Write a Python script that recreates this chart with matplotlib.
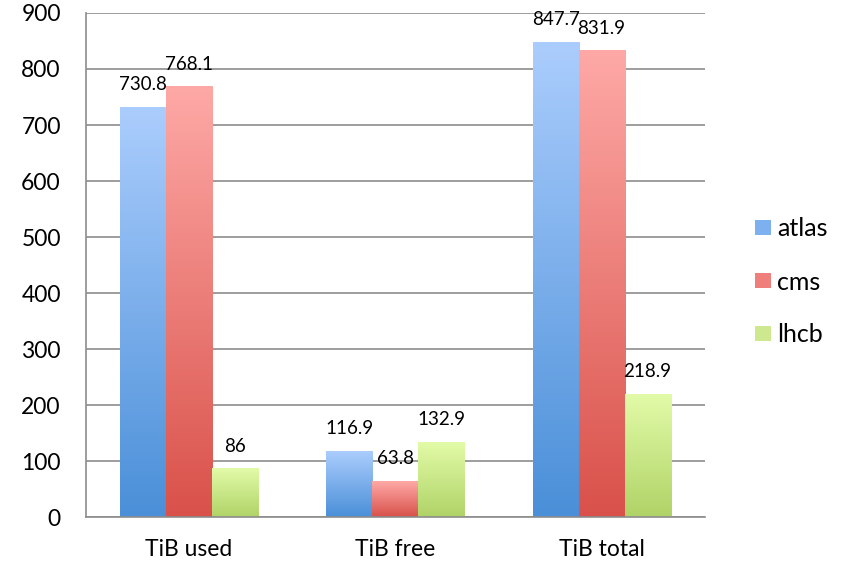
#!/usr/bin/env python3
"""storage usage per experiment, grouped bars with vertical gradient"""

import matplotlib
matplotlib.use("Agg")
import matplotlib.pyplot as plt
import numpy as np
from matplotlib.colors import LinearSegmentedColormap
from matplotlib.patches import Patch

categories = ["TiB used", "TiB free", "TiB total"]
series = ["atlas", "cms", "lhcb"]
atlas = [730.8, 116.9, 847.7]
cms = [768.1, 63.8, 831.9]
lhcb = [86, 132.9, 218.9]
labels = [["730.8", "116.9", "847.7"], ["768.1", "63.8", "831.9"], ["86", "132.9", "218.9"]]

# (top colour, bottom colour)
colors = [("#abcdfd", "#4a8fd8"), ("#fea9a6", "#d9514a"), ("#e2fba8", "#b0d367")]
legend_colors = ["#7cb0ee", "#ee7f7a", "#cde88f"]

plt.rcParams["font.family"] = ["Lato", "DejaVu Sans"]


def plot(ax):
    values = [atlas, cms, lhcb]
    x = np.arange(len(categories))
    width = 0.223
    grad = np.linspace(0, 1, 256).reshape(-1, 1)

    for i, (vals, (top, bot)) in enumerate(zip(values, colors)):
        cmap = LinearSegmentedColormap.from_list(series[i], [top, bot])
        offs = (i - 1) * width
        for j, v in enumerate(vals):
            x0 = x[j] + offs - width / 2
            ax.imshow(grad, cmap=cmap, aspect="auto", extent=[x0, x0 + width, 0, v],
                      origin="upper", zorder=2, interpolation="bilinear")
            ax.annotate(labels[i][j], (x[j] + offs, v), xytext=(0, 12.5),
                        textcoords="offset points", ha="center", va="baseline",
                        fontsize=13.5, zorder=3)

    ax.set_xlim(-0.5, 2.5)
    ax.set_ylim(0, 900)
    ax.set_yticks(range(0, 901, 100))
    ax.set_xticks(x)
    ax.set_xticklabels(categories)
    ax.tick_params(axis="both", labelsize=16.5, length=0, colors="black")
    ax.tick_params(axis="y", pad=18)
    ax.tick_params(axis="x", pad=16)
    ax.grid(axis="y", color="#8c8c8c", linewidth=1.2, zorder=0)
    ax.set_axisbelow(True)
    for side in ["top", "right"]:
        ax.spines[side].set_visible(False)
    for side in ["left", "bottom"]:
        ax.spines[side].set_color("#8c8c8c")
        ax.spines[side].set_linewidth(1.2)

    handles = [Patch(facecolor=c, edgecolor="none") for c in legend_colors]
    ax.figure.legend(handles, series, loc="center left", bbox_to_anchor=(0.8977, 0.5),
                     frameon=False, fontsize=18, borderpad=0, borderaxespad=0,
                     handlelength=0.64, handleheight=0.56, handletextpad=0.25,
                     labelspacing=1.2)


def main():
    fig = plt.figure(figsize=(8.41, 5.64), dpi=100)
    ax = fig.add_axes([0.102, 0.083, 0.736, 0.894])
    plot(ax)
    fig.savefig("out.png", dpi=100)


if __name__ == "__main__":
    main()
